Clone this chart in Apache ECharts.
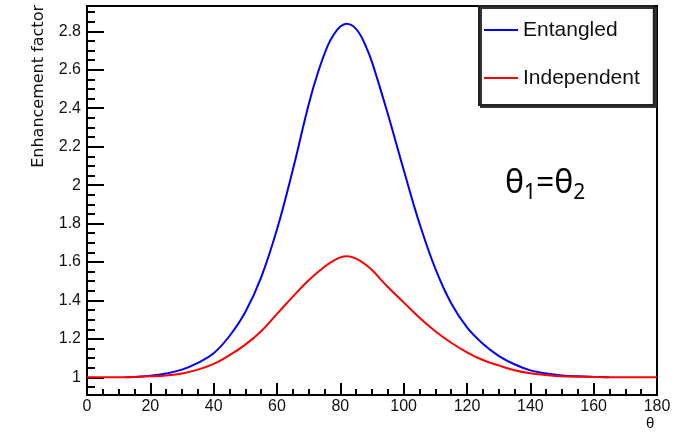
<!DOCTYPE html>
<html style="height: 100%">
<head>
    <meta charset="utf-8">
</head>
<body style="height: 100%; margin: 0; background-color: #fff;">
<div id="container" style="width: 689px; height: 436px"></div>
<script type="text/javascript" src="https://cdn.jsdelivr.net/npm/echarts@6/dist/echarts.min.js"></script>
<script type="text/javascript">
// angle theta (deg) and enhancement factor
var entangledTheta = [12, 15, 20, 25, 30, 35, 40, 45, 50, 55, 60, 65, 70, 73, 76, 78, 80, 82, 84, 86, 88, 90, 95, 100, 105, 110, 115, 120, 125, 130, 135, 140, 145, 150, 155, 160, 165];
var entangledValue = [1.0, 1.002, 1.008, 1.02, 1.04, 1.075, 1.125, 1.215, 1.34, 1.52, 1.77, 2.08, 2.42, 2.59, 2.725, 2.785, 2.825, 2.84, 2.828, 2.79, 2.725, 2.64, 2.37, 2.08, 1.80, 1.565, 1.385, 1.26, 1.175, 1.112, 1.068, 1.036, 1.02, 1.01, 1.005, 1.002, 1.0];
var independentTheta = [0, 10, 15, 20, 25, 30, 35, 40, 45, 50, 55, 60, 65, 70, 75, 78, 80, 82, 84, 86, 88, 90, 95, 100, 105, 110, 115, 120, 125, 130, 135, 140, 145, 150, 160, 170, 180];
var independentValue = [1.0, 1.0, 1.002, 1.005, 1.01, 1.02, 1.04, 1.07, 1.115, 1.17, 1.24, 1.33, 1.42, 1.505, 1.575, 1.608, 1.624, 1.63, 1.624, 1.609, 1.586, 1.558, 1.47, 1.39, 1.31, 1.24, 1.18, 1.13, 1.09, 1.062, 1.037, 1.021, 1.012, 1.006, 1.002, 1.0, 1.0];
var yTickLabels = [1, 1.2, 1.4, 1.6, 1.8, 2, 2.2, 2.4, 2.6, 2.8];
var yMinorTicks = [0.95, 1.05, 1.1, 1.15, 1.25, 1.3, 1.35, 1.45, 1.5, 1.55, 1.65, 1.7, 1.75, 1.85, 1.9, 1.95, 2.05, 2.1, 2.15, 2.25, 2.3, 2.35, 2.45, 2.5, 2.55, 2.65, 2.7, 2.75, 2.85, 2.9];

function pairs(xs, ys) {
    var out = [];
    for (var i = 0; i < xs.length; i++) out.push([xs[i], ys[i]]);
    return out;
}

var chart = echarts.init(document.getElementById('container'));
var yMin = 0.908, yMax = 2.932;
var labelFont = 'Liberation Sans';
var lineIcon = 'path://M0,0L34,0L34,2L0,2Z';

chart.setOption({
    animation: false,
    grid: {
        left: 87, top: 6, right: 32, bottom: 41,
        show: true, borderColor: '#000', borderWidth: 2, backgroundColor: 'transparent'
    },
    legend: {
        left: 479, top: 6,
        orient: 'vertical',
        data: [{ name: 'Entangled', icon: lineIcon }, { name: 'Independent', icon: lineIcon }],
        itemWidth: 34, itemHeight: 24, itemGap: 24,
        padding: [12, 14, 15, 5],
        backgroundColor: '#fff',
        borderColor: '#222', borderWidth: 2,
        shadowColor: '#333', shadowOffsetX: 2, shadowOffsetY: 2, shadowBlur: 0,
        textStyle: { fontFamily: labelFont, fontSize: 21, color: '#111', lineHeight: 24 }
    },
    xAxis: {
        type: 'value', min: 0, max: 180, interval: 20,
        axisLine: { lineStyle: { color: '#000', width: 2 } },
        axisTick: { inside: true, length: 12, lineStyle: { color: '#000', width: 2 } },
        minorTick: { show: true, splitNumber: 4, length: 6, lineStyle: { color: '#000', width: 2 } },
        axisLabel: { fontFamily: labelFont, fontSize: 16, color: '#111', margin: 4 },
        splitLine: { show: false }
    },
    yAxis: [{
        type: 'value', min: yMin, max: yMax, position: 'left',
        axisLine: { show: true, lineStyle: { color: '#000', width: 2 } },
        axisTick: { inside: true, length: 17, customValues: yTickLabels, lineStyle: { color: '#000', width: 2 } },
        axisLabel: { fontFamily: labelFont, fontSize: 16, color: '#111', margin: 6, customValues: yTickLabels },
        splitLine: { show: false }
    }, {
        type: 'value', min: yMin, max: yMax, position: 'left',
        axisLine: { show: false },
        axisTick: { inside: true, length: 8, customValues: yMinorTicks, lineStyle: { color: '#000', width: 2 } },
        axisLabel: { show: false },
        splitLine: { show: false }
    }],
    graphic: [{
        type: 'text', left: 31, top: 5,
        rotation: Math.PI / 2,
        style: { text: 'Enhancement factor', font: '16px DejaVu Sans', fill: '#111' }
    }, {
        type: 'text', left: 646, top: 416,
        style: { text: 'θ', font: '15px Liberation Sans', fill: '#111' }
    }, {
        type: 'text', left: 505, top: 168,
        style: {
            text: 'θ{s|1}=θ{s|2}',
            font: '32px Noto Sans', fill: '#000',
            rich: { s: { fontSize: 21, fontFamily: 'Noto Sans', padding: [18, 0, 0, 0] } }
        }
    }],
    series: [{
        name: 'Entangled', type: 'line', symbol: 'none', smooth: 0.4,
        color: '#0000ff', lineStyle: { color: '#0000ff', width: 2 },
        data: pairs(entangledTheta, entangledValue)
    }, {
        name: 'Independent', type: 'line', symbol: 'none', smooth: 0.4,
        color: '#ff0000', lineStyle: { color: '#ff0000', width: 2 },
        data: pairs(independentTheta, independentValue)
    }]
});
</script>
</body>
</html>
